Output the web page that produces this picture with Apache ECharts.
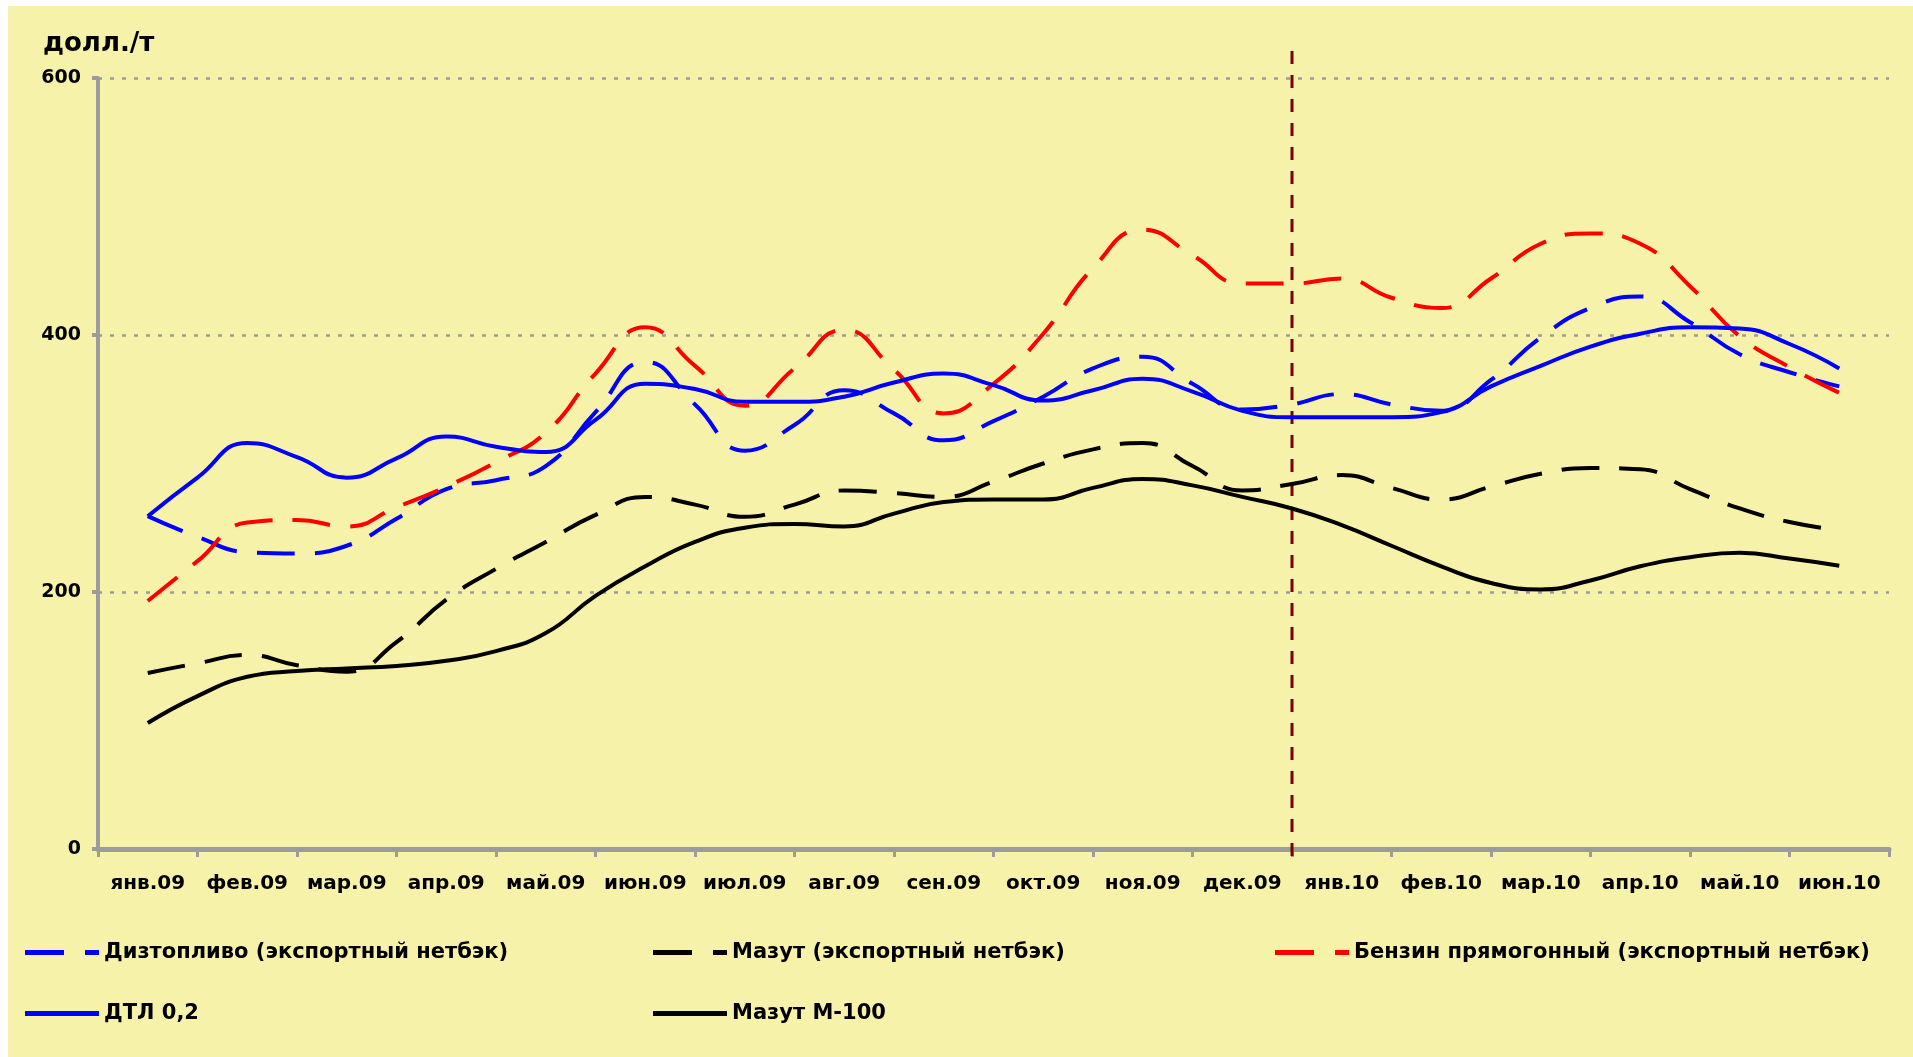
<!DOCTYPE html>
<html>
<head>
<meta charset="utf-8">
<script src="https://cdn.jsdelivr.net/npm/echarts@6/dist/echarts.min.js"></script>
<style>
html,body{margin:0;padding:0;background:#ffffff;width:1913px;height:1057px;overflow:hidden;}
#chart{position:absolute;left:8px;top:6px;width:1905px;height:1051px;}
</style>
</head>
<body>
<div id="chart"></div>
<script>
// Month categories (x-axis labels)
const months = ['янв.09','фев.09','мар.09','апр.09','май.09','июн.09','июл.09','авг.09','сен.09','окт.09','ноя.09','дек.09','янв.10','фев.10','мар.10','апр.10','май.10','июн.10'];
// Y-axis ticks
const yTicks = [0, 200, 400, 600];
// Values sampled twice a month (янв.09 centre ... июн.10 centre), USD/t
const diesel   = [259,243,231,230,236,257,280,287,298,340,379,346,310,330,357,339,318,333,352,374,383,362,342,346,354,346,341,365,398,421,430,410,385,371,360];
const fuelExp  = [137,144.5,151,143,138,161,194,218,239,260,274,268,258.5,268,279,277,274,286,300,311,316,298,279,284,291,281,272,282,292,296.5,295.5,280,265,254.5,248];
const gasoline = [193,224,254,256,251,266,282,301,324,370,406,376,345,374,404,373,339,362,401,452,482,462,440,440,444,429,421,444,471,479,471,438,399,375,355];
const dtl      = [259,289,316,305,289,304,321,313,309,334,362,358,348,348,352,363,370,361,349,357,366,356,341,336,336,336,340,360,376,391,401,406,405,393,374];
const m100     = [98,119,134,138.5,140.5,142.5,146.5,154,168,197,220,239,250,253,251,261,270,272,272,281,288,283,274,265,252,236,220,207,202,209,220,227,230.5,226,220.5];
// Position of the divider (boundary between дек.09 and янв.10), in month units
const dividerAt = 11.5;

const names = ['Дизтопливо (экспортный нетбэк)','Мазут (экспортный нетбэк)','Бензин прямогонный (экспортный нетбэк)','ДТЛ 0,2','Мазут М-100'];
const toXY = arr => arr.map((v, i) => [i / 2, v]);

const FONT = 'DejaVu Sans';
const GREY = '#9c9c9c';
const DASH = [38, 20];

function lineSeries(name, values, color, dashed) {
  return {
    name, type: 'line', xAxisIndex: 1, yAxisIndex: 0,
    data: toXY(values), smooth: 0.5, symbol: 'none', silent: true, z: 3,
    lineStyle: { color, width: 4, type: dashed ? DASH : 'solid', cap: 'butt' },
    itemStyle: { color }
  };
}

const ICON_DASHED = 'path://M0,0H39V5H0Z M60,0H74V5H60Z';
const ICON_SOLID = 'path://M0,0H74V5H0Z';

const legendCommon = {
  orient: 'vertical', itemGap: 40, itemWidth: 74, itemHeight: 5, padding: 0,
  textStyle: { fontFamily: FONT, fontWeight: 'bold', fontSize: 21, color: '#000' },
  selectedMode: false
};

const chart = echarts.init(document.getElementById('chart'), null, { renderer: 'canvas' });
chart.setOption({
  backgroundColor: '#F7F2AA',
  animation: false,
  title: { text: 'долл./т', left: 35, top: 25, padding: 0,
    textStyle: { fontFamily: FONT, fontWeight: 'bold', fontSize: 26, color: '#000' } },
  legend: [
    Object.assign({}, legendCommon, { left: 17, top: 936,
      data: [{ name: names[0], icon: ICON_DASHED }, { name: names[3], icon: ICON_SOLID }] }),
    Object.assign({}, legendCommon, { left: 645, top: 936,
      data: [{ name: names[1], icon: ICON_DASHED }, { name: names[4], icon: ICON_SOLID }] }),
    Object.assign({}, legendCommon, { left: 1267, top: 936,
      data: [{ name: names[2], icon: ICON_DASHED }] })
  ],
  grid: [
    { left: 90, right: 24, top: 72, bottom: 208 },
    { left: 90, right: 24, top: 43, bottom: 201 }
  ],
  xAxis: [
    { type: 'category', gridIndex: 0, data: months, boundaryGap: true,
      axisLine: { lineStyle: { color: GREY, width: 5 } },
      axisTick: { show: true, length: 8, lineStyle: { color: GREY, width: 3 } },
      axisLabel: { interval: 0, margin: 25, fontFamily: FONT, fontWeight: 'bold', fontSize: 20, color: '#000' },
      splitLine: { show: false } },
    { type: 'value', gridIndex: 0, min: -0.5, max: 17.5, show: false },
    { type: 'value', gridIndex: 1, min: -0.5, max: 17.5, show: false }
  ],
  yAxis: [
    { type: 'value', gridIndex: 0, min: yTicks[0], max: yTicks[yTicks.length - 1], interval: 200,
      axisLine: { show: true, onZero: false, lineStyle: { color: GREY, width: 4, cap: 'round' } },
      axisTick: { show: true, length: 6, lineStyle: { color: GREY, width: 4 } },
      axisLabel: { margin: 17, fontFamily: FONT, fontWeight: 'bold', fontSize: 19, color: '#000' },
      splitLine: { show: true, lineStyle: { color: GREY, width: 2.5, type: [4, 8] } } },
    { type: 'value', gridIndex: 1, min: 0, max: 1, show: false }
  ],
  series: [
    { name: 'divider', type: 'line', xAxisIndex: 2, yAxisIndex: 1,
      data: [[dividerAt, 0], [dividerAt, 1]], symbol: 'none', silent: true, z: 1,
      lineStyle: { color: '#7a0000', width: 3, type: [13, 11] } },
    lineSeries(names[0], diesel, '#0000FF', true),
    lineSeries(names[1], fuelExp, '#000000', true),
    lineSeries(names[2], gasoline, '#FF0000', true),
    lineSeries(names[3], dtl, '#0000FF', false),
    lineSeries(names[4], m100, '#000000', false)
  ]
});
</script>
</body>
</html>
